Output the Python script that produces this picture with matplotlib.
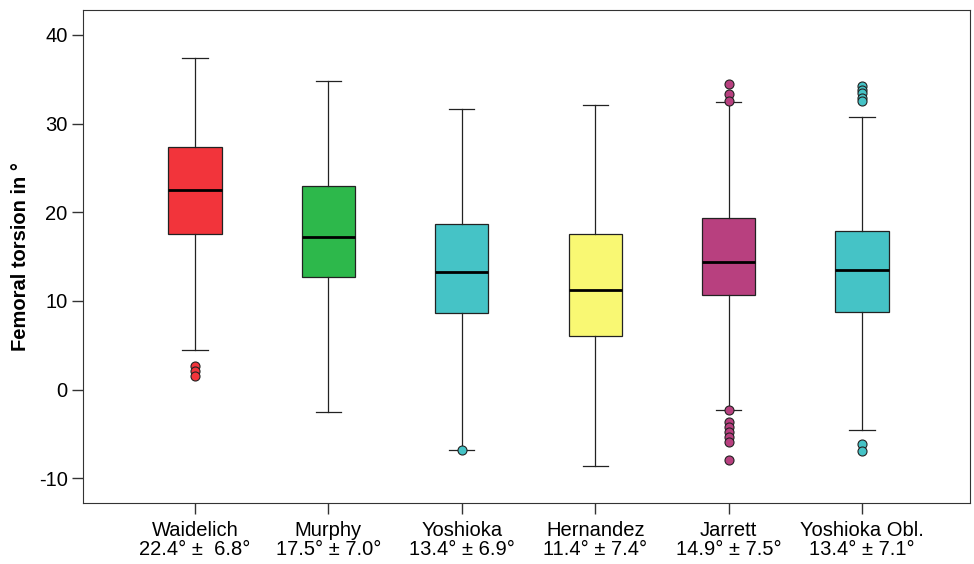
import matplotlib.pyplot as plt

plt.rcParams['font.family'] = ['Liberation Sans', 'DejaVu Sans']
plt.rcParams['axes.unicode_minus'] = False

# box statistics
names = ["Waidelich", "Murphy", "Yoshioka", "Hernandez", "Jarrett", "Yoshioka Obl."]
summary = ["22.4\u00b0 \u00b1  6.8\u00b0", "17.5\u00b0 \u00b1 7.0\u00b0", "13.4\u00b0 \u00b1 6.9\u00b0",
           "11.4\u00b0 \u00b1 7.4\u00b0", "14.9\u00b0 \u00b1 7.5\u00b0", "13.4\u00b0 \u00b1 7.1\u00b0"]
whislo = [4.5, -2.5, -6.8, -8.6, -2.3, -4.5]
q1 = [17.6, 12.7, 8.6, 6.1, 10.7, 8.7]
med = [22.5, 17.2, 13.3, 11.2, 14.4, 13.5]
q3 = [27.4, 23.0, 18.7, 17.5, 19.4, 17.9]
whishi = [37.4, 34.8, 31.7, 32.1, 32.4, 30.8]
fliers = [
    [2.7, 2.1, 1.5],
    [],
    [-6.8],
    [],
    [34.5, 33.3, 32.6, -2.3, -3.7, -4.2, -4.8, -5.4, -5.9, -7.9],
    [34.3, 33.8, 33.4, 32.9, 32.5, -6.1, -6.9],
]
colors = ["#F2343B", "#2DB84B", "#45C3C6", "#F9F873", "#B8407F", "#45C3C6"]

stats = []
for i in range(len(names)):
    stats.append({"whislo": whislo[i], "q1": q1[i], "med": med[i], "q3": q3[i],
                  "whishi": whishi[i], "fliers": fliers[i]})

fig = plt.figure(figsize=(9.74, 5.64), dpi=100)
ax = fig.add_axes([0.0852, 0.108, 0.9107, 0.874])

bp = ax.bxp(stats, positions=range(1, 7), widths=0.4, capwidths=0.19,
            patch_artist=True, showfliers=True,
            boxprops=dict(edgecolor="#222222", linewidth=0.9),
            medianprops=dict(color="black", linewidth=2),
            whiskerprops=dict(color="#222222", linewidth=0.9),
            capprops=dict(color="#222222", linewidth=0.9))

for i, box in enumerate(bp["boxes"]):
    box.set_facecolor(colors[i])
for i, fl in enumerate(bp["fliers"]):
    fl.set(marker="o", markerfacecolor=colors[i], markeredgecolor="#222222",
           markersize=6.5, markeredgewidth=0.8)

ax.set_xlim(0.16, 6.81)
ax.set_ylim(-12.8, 42.8)
ax.set_yticks([-10, 0, 10, 20, 30, 40])
ax.set_xticks(range(1, 7))
ax.tick_params(axis="both", length=8, width=1, color="#333333", labelsize=14.5, pad=3)
ax.set_xticklabels([n + "\n" + s for n, s in zip(names, summary)], fontsize=14.5, linespacing=1.0)
ax.tick_params(axis="x", pad=5)
ax.set_ylabel("Femoral torsion in \u00b0", fontsize=14.5, fontweight="bold", labelpad=6)
for s in ax.spines.values():
    s.set_color("#333333")

fig.savefig("out.png", dpi=100)
